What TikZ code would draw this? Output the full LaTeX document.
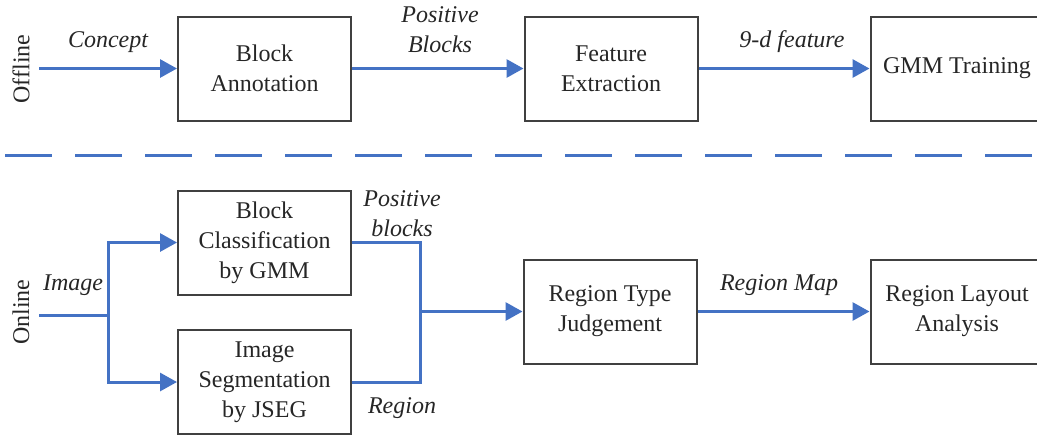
\documentclass[tikz,border=0pt]{standalone}
\usepackage{fontspec}
\setmainfont{Liberation Serif}
\usetikzlibrary{arrows.meta}
\definecolor{flowblue}{HTML}{4472C4}
\definecolor{boxgray}{HTML}{404040}
\begin{document}
\begin{tikzpicture}[x=0.5pt,y=-0.5pt,
  procbox/.style={draw=boxgray,line width=1pt,minimum width=86.5pt,minimum height=52pt,
    inner sep=0pt,align=center,font=\fontsize{12}{15}\selectfont,text=black!85},
  flow/.style={draw=flowblue,line width=1.5pt},
  flowarrow/.style={flow,-{Triangle[length=8.5pt,width=9pt]}},
  lbl/.style={font=\fontsize{12}{15}\selectfont\itshape,align=center,inner sep=0pt,text=black!85},
  side/.style={font=\fontsize{12}{15}\selectfont,rotate=90,inner sep=0pt,text=black!85}]
\useasboundingbox (0,0) rectangle (1037,436);
\clip (0,0) rectangle (1037,436);
% offline row
\node[procbox] (ba) at (264.5,68.5) {Block\\Annotation};
\node[procbox] (fe) at (611,68.5) {Feature\\Extraction};
\node[procbox] (gt) at (957,68.5) {GMM Training};
\coordinate (cin) at (39,68.5);
\draw[flowarrow] (cin) -- (ba.west);
\draw[flowarrow] (ba.east) -- (fe.west);
\draw[flowarrow] (fe.east) -- (gt.west);
\node[lbl] (lconcept) at (108,42) {Concept};
\node[lbl] (lposb) at (440,30) {Positive\\Blocks};
\node[lbl] (lfeat) at (792,42) {9-d feature};
\node[side] (loff) at (21,69) {Offline};
% separator
\coordinate (s1) at (5,155);
\coordinate (s2) at (1037,155);
\draw[flow,dash pattern=on 23.5pt off 11.5pt] (s1) -- (s2);
% online row
\node[procbox] (bc) at (264.5,242.5) {Block\\Classification\\by GMM};
\node[procbox] (is) at (264.5,382) {Image\\Segmentation\\by JSEG};
\node[procbox] (rt) at (610,311.5) {Region Type\\Judgement};
\node[procbox] (rl) at (957,311.5) {Region Layout\\Analysis};
\coordinate (iin) at (39,315);
\coordinate (br) at (108,315);
\coordinate (mg) at (420,311.5);
\draw[flow] (iin) -- (br);
\draw[flowarrow] (br) |- (bc.west);
\draw[flowarrow] (br) |- (is.west);
\draw[flow] (bc.east) -| (mg) |- (is.east);
\draw[flowarrow] (mg) -- (rt.west);
\draw[flowarrow] (rt.east) -- (rl.west);
\node[lbl] (limg) at (73,285) {Image};
\node[lbl] (lposb2) at (402,214) {Positive\\blocks};
\node[lbl] (lreg) at (402,408) {Region};
\node[lbl] (lmap) at (779,285) {Region Map};
\node[side] (lon) at (21,312) {Online};
\end{tikzpicture}
\end{document}
